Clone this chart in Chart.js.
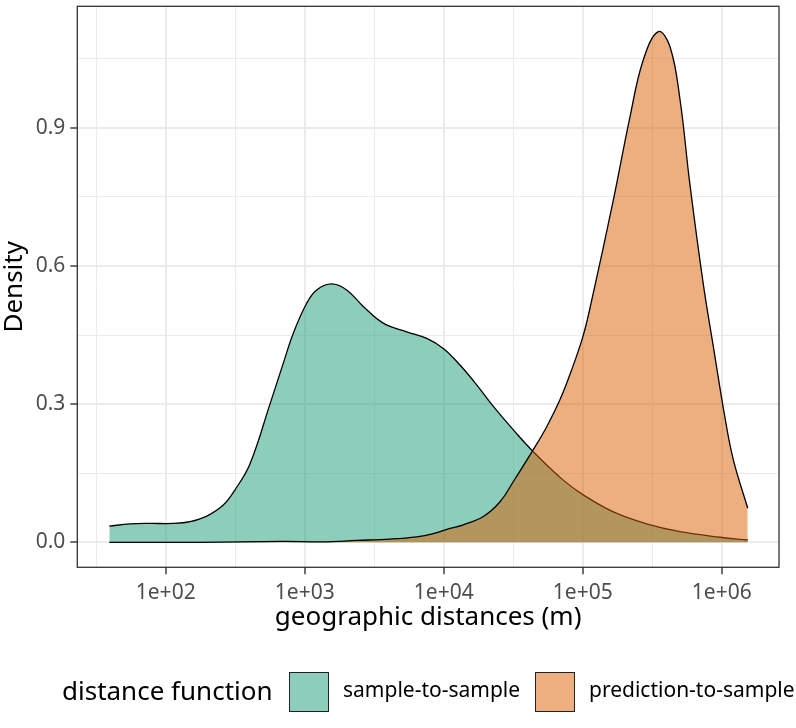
<!DOCTYPE html>
<html lang="en">
<head>
<meta charset="UTF-8">
<title>Geographic distance densities</title>
<script src="https://cdn.jsdelivr.net/npm/chart.js@4"></script>
<style>
  html, body { margin: 0; padding: 0; background: #fff; }
  #wrap { position: relative; width: 796px; height: 728px; font-family: "Noto Sans", sans-serif; }
  #chart { position: absolute; left: 0; top: 0; }
  .lg { position: absolute; line-height: 1; white-space: nowrap; color: #000; }
  .key { position: absolute; width: 40px; height: 40px; border: 1px solid #222; box-sizing: border-box; }
</style>
</head>
<body>
<div id="wrap">
  <canvas id="chart" width="796" height="728" style="width:796px;height:728px"></canvas>
  <span class="lg" style="left:62px; top:677px; font-size:26px">distance function</span>
  <div class="key" style="left:289px; top:672px; background:rgba(27,158,119,0.5)"></div>
  <span class="lg" style="left:343px; top:679px; font-size:21px">sample-to-sample</span>
  <div class="key" style="left:535px; top:672px; background:rgba(217,95,2,0.5)"></div>
  <span class="lg" style="left:589px; top:679px; font-size:21px">prediction-to-sample</span>
</div>
<script>
// distances in metres, densities
const sampleDist = [39.3, 55.3, 77.1, 113.5, 149.7, 197.3, 259.6, 315.2, 403.6,
  562.3, 701.5, 827.9, 1033, 1219, 1563, 2004, 2641, 3675, 5418,
  7551, 9934, 13090, 17260, 22750, 31700, 43650, 72440, 100900, 166000,
  288400, 501200, 972800, 1538000];
const sampleDensity = [0.035, 0.040, 0.041, 0.041, 0.045, 0.057, 0.081, 0.114, 0.170,
  0.300, 0.389, 0.454, 0.519, 0.548, 0.561, 0.548, 0.512, 0.476, 0.457,
  0.443, 0.421, 0.385, 0.342, 0.295, 0.244, 0.198, 0.135, 0.103, 0.066,
  0.040, 0.023, 0.011, 0.005];

const predDist = [39.3, 176.6, 698, 1355, 2366, 4111, 6397, 8420, 11090, 13830,
  19280, 25410, 31700, 43650, 55080, 68680, 83350, 100990, 116100,
  166000, 218800, 272900, 349900, 424600, 501200, 588800, 737300, 870100,
  1056000, 1212000, 1538000];
const predDensity = [0, 0, 0.002, 0.001, 0.004, 0.007, 0.012, 0.019, 0.030, 0.038,
  0.056, 0.088, 0.132, 0.199, 0.251, 0.310, 0.375, 0.450, 0.526,
  0.743, 0.924, 1.048, 1.109, 1.076, 0.961, 0.780, 0.560, 0.425,
  0.270, 0.179, 0.074];

// grid positions: decades are labelled, half-decades are minor lines
const xTicks = [31.62, 100, 316.2, 1000, 3162, 10000, 31623, 100000, 316228, 1000000];
const yTicks = [0, 0.15, 0.3, 0.45, 0.6, 0.75, 0.9, 1.05];

const isDecade = v => Math.abs(Math.log10(v) - Math.round(Math.log10(v))) < 1e-6;
const isMajorY = v => Math.abs(v / 0.3 - Math.round(v / 0.3)) < 1e-6;
const toPoints = (xs, ys) => xs.map((x, i) => ({ x: x, y: ys[i] }));

Chart.defaults.font.family = '"Noto Sans", sans-serif';

const panelBorder = {
  id: 'panelBorder',
  afterDatasetsDraw(chart) {
    const { ctx, chartArea: a } = chart;
    ctx.save();
    ctx.strokeStyle = '#333333';
    ctx.lineWidth = 1.3;
    ctx.strokeRect(a.left, a.top, a.right - a.left, a.bottom - a.top);
    ctx.restore();
  }
};

new Chart(document.getElementById('chart'), {
  type: 'line',
  data: {
    datasets: [
      {
        label: 'sample-to-sample',
        data: toPoints(sampleDist, sampleDensity),
        backgroundColor: 'rgba(27,158,119,0.5)',
        borderColor: '#000',
        borderWidth: 1.3,
        tension: 0.4,
        fill: 'origin',
        order: 2
      },
      {
        label: 'prediction-to-sample',
        data: toPoints(predDist, predDensity),
        backgroundColor: 'rgba(217,95,2,0.5)',
        borderColor: '#000',
        borderWidth: 1.3,
        tension: 0.4,
        fill: 'origin',
        order: 1
      }
    ]
  },
  options: {
    responsive: false,
    devicePixelRatio: 1,
    animation: false,
    elements: { point: { radius: 0 } },
    layout: { padding: { top: 6.3, right: 17, bottom: 80, left: 0 } },
    plugins: { legend: { display: false }, tooltip: { enabled: false } },
    scales: {
      x: {
        type: 'logarithmic',
        bounds: 'data',
        min: 23.12,
        max: 2582000,
        afterBuildTicks: s => { s.ticks = xTicks.map(v => ({ value: v })); },
        afterFit: s => { s.height = 80.7; s.paddingLeft = 0; s.paddingRight = 0; },
        border: { display: false },
        grid: {
          color: '#ebebeb',
          lineWidth: c => isDecade(c.tick.value) ? 2 : 1,
          tickColor: c => isDecade(c.tick.value) ? '#333333' : 'rgba(0,0,0,0)',
          tickLength: 7,
          tickWidth: 1.4
        },
        ticks: {
          autoSkip: false,
          maxRotation: 0,
          padding: 6,
          color: '#4d4d4d',
          font: { size: 21 },
          callback: v => isDecade(v) ? '1e+' + String(Math.round(Math.log10(v))).padStart(2, '0') : ''
        },
        title: {
          display: true,
          text: 'geographic distances (m)',
          color: '#000',
          font: { size: 26 },
          padding: { top: 0, bottom: 15 }
        }
      },
      y: {
        type: 'linear',
        bounds: 'data',
        min: -0.0543,
        max: 1.164,
        afterBuildTicks: s => { s.ticks = yTicks.map(v => ({ value: v })); },
        afterFit: s => { s.width = 77.3; s.paddingTop = 0; s.paddingBottom = 0; },
        border: { display: false },
        grid: {
          color: '#ebebeb',
          lineWidth: c => isMajorY(c.tick.value) ? 2 : 1,
          tickColor: c => isMajorY(c.tick.value) ? '#333333' : 'rgba(0,0,0,0)',
          tickLength: 7,
          tickWidth: 1.4
        },
        ticks: {
          padding: 5,
          color: '#4d4d4d',
          font: { size: 21 },
          callback: v => isMajorY(v) ? v.toFixed(1) : ''
        },
        title: {
          display: true,
          text: 'Density',
          color: '#000',
          font: { size: 26, lineHeight: 1.15 },
          padding: 0
        }
      }
    }
  },
  plugins: [panelBorder]
});
</script>
</body>
</html>
